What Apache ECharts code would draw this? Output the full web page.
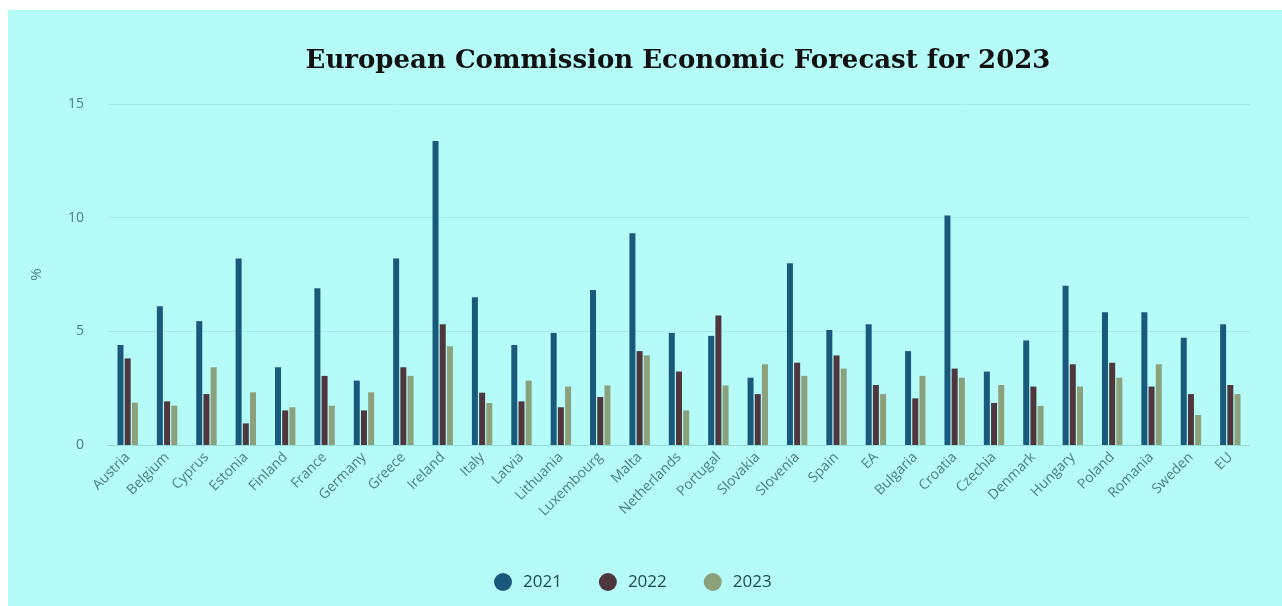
<!DOCTYPE html>
<html>
<head>
<meta charset="utf-8">
<script src="https://cdn.jsdelivr.net/npm/echarts@6/dist/echarts.min.js"></script>
<style>
  html, body { margin: 0; padding: 0; background: #ffffff; }
  #chart { position: absolute; left: 8px; top: 10px; width: 1274px; height: 596px; background: #b5fbf8; }
</style>
</head>
<body>
<div id="chart"></div>
<script>
const categories = ["Austria","Belgium","Cyprus","Estonia","Finland","France","Germany","Greece","Ireland","Italy","Latvia","Lithuania","Luxembourg","Malta","Netherlands","Portugal","Slovakia","Slovenia","Spain","EA","Bulgaria","Croatia","Czechia","Denmark","Hungary","Poland","Romania","Sweden","EU"];
const values2021 = [4.4,6.1,5.45,8.2,3.42,6.9,2.83,8.2,13.37,6.5,4.4,4.93,6.82,9.31,4.93,4.8,2.96,8.0,5.06,5.31,4.13,10.1,3.23,4.6,7.0,5.84,5.84,4.72,5.31];
const values2022 = [3.81,1.92,2.24,0.95,1.52,3.04,1.52,3.42,5.31,2.3,1.92,1.66,2.11,4.13,3.23,5.7,2.24,3.62,3.94,2.64,2.05,3.36,1.85,2.57,3.55,3.62,2.57,2.24,2.64];
const values2023 = [1.86,1.73,3.42,2.32,1.66,1.73,2.32,3.04,4.34,1.85,2.83,2.57,2.62,3.94,1.52,2.62,3.55,3.04,3.36,2.24,3.04,2.96,2.64,1.72,2.57,2.96,3.55,1.32,2.24];
const seriesNames = ["2021","2022","2023"];
const yTicks = { min: 0, max: 15, interval: 5 };

const chart = echarts.init(document.getElementById('chart'), null, { renderer: 'canvas' });
const colors = ['#195a7c', '#4f363c', '#8ba17b'];
const dataSets = [values2021, values2022, values2023];
chart.setOption({
  backgroundColor: '#b5fbf8',
  color: colors,
  title: {
    text: 'European Commission Economic Forecast for 2023',
    left: 665, top: 33, textAlign: 'center',
    textStyle: { fontFamily: 'DejaVu Serif', fontWeight: 'bold', fontSize: 26, color: '#111111' }
  },
  legend: {
    bottom: 10, left: 481,
    icon: 'circle', itemWidth: 18, itemHeight: 18, itemGap: 37,
    textStyle: { fontFamily: 'Open Sans', fontSize: 17, color: '#1d4a50', padding: [0, 0, 0, 6] },
    data: seriesNames
  },
  grid: { left: 100, right: 32, top: 94, bottom: 161, containLabel: false },
  xAxis: {
    type: 'category', data: categories,
    axisLine: { lineStyle: { color: '#95dede' } },
    axisTick: { show: false },
    axisLabel: { rotate: 45, interval: 0, fontFamily: 'Open Sans', fontSize: 14, color: '#4d8183', margin: 10 }
  },
  yAxis: {
    type: 'value', min: yTicks.min, max: yTicks.max, interval: yTicks.interval,
    name: '%', nameLocation: 'middle', nameGap: 64,
    nameTextStyle: { fontFamily: 'Open Sans', fontSize: 15, color: '#4d8183' },
    axisLine: { show: false }, axisTick: { show: false },
    axisLabel: { fontFamily: 'Open Sans', fontSize: 14, color: '#4d8183', margin: 24 },
    splitLine: { lineStyle: { color: '#a2eeee' } }
  },
  series: seriesNames.map((n, i) => ({
    name: n, type: 'bar', data: dataSets[i], barWidth: 6, barGap: '20%'
  }))
});
</script>
</body>
</html>
